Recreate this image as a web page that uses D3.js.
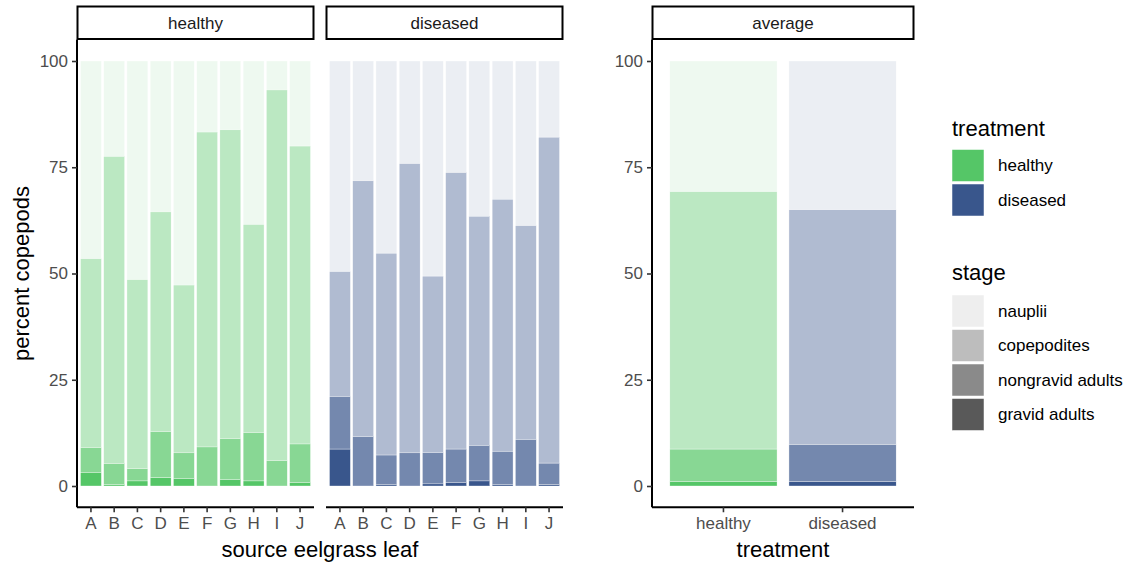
<!DOCTYPE html>
<html>
<head>
<meta charset="utf-8">
<script src="https://cdn.jsdelivr.net/npm/d3@7"></script>
<style>
  html, body { margin: 0; padding: 0; background: #ffffff; }
  svg { display: block; font-family: "Liberation Sans", Arial, sans-serif; }
</style>
</head>
<body>
<svg id="chart" width="1130" height="565"></svg>
<script>
// ---- data: percent of copepods in each life stage ----
const leaves = ["A", "B", "C", "D", "E", "F", "G", "H", "I", "J"];
const treatments = ["healthy", "diseased"];
const stages = ["nauplii", "copepodites", "nongravid adults", "gravid adults"];
const yTicks = [0, 25, 50, 75, 100];

// healthy leaves
const healthyGravid      = [3.1, 0.4, 1.2, 2.0, 1.7, 0.0, 1.5, 1.2, 0.0, 0.9];
const healthyNongravid   = [5.9, 4.9, 2.9, 10.8, 6.1, 9.2, 9.6, 11.4, 6.0, 9.0];
const healthyCopepodites = [44.5, 72.3, 44.5, 51.7, 39.5, 74.1, 72.7, 49.0, 87.2, 70.1];
const healthyNauplii     = [46.5, 22.4, 51.4, 35.5, 52.7, 16.7, 16.2, 38.4, 6.8, 20.0];

// diseased leaves
const diseasedGravid      = [8.7, 0.0, 0.3, 0.0, 0.5, 0.9, 1.2, 0.3, 0.0, 0.4];
const diseasedNongravid   = [12.4, 11.6, 7.0, 7.8, 7.4, 7.8, 8.4, 7.9, 11.0, 5.0];
const diseasedCopepodites = [29.4, 60.2, 47.5, 68.1, 41.5, 65.1, 53.9, 59.3, 50.3, 76.7];
const diseasedNauplii     = [49.5, 28.2, 45.2, 24.1, 50.6, 26.2, 36.5, 32.5, 38.7, 17.9];

// averages per treatment (healthy, diseased)
const avgGravid      = [1.1, 1.1];
const avgNongravid   = [7.6, 8.7];
const avgCopepodites = [60.6, 55.2];
const avgNauplii     = [30.7, 35.0];

// ---- styling ----
const treatmentColor = { healthy: "#55C667", diseased: "#39568C" };
const stageAlpha = { "nauplii": 0.1, "copepodites": 0.4, "nongravid adults": 0.7, "gravid adults": 1.0 };
const smallFont = 17, titleFont = 22;

const svg = d3.select("#chart");

// rows for a panel: one object per category with a value for each stage
function rows(cats, gravid, nongravid, cope, naup, treat) {
  return cats.map((c, i) => ({
    cat: c, treat: treat[i],
    "gravid adults": gravid[i],
    "nongravid adults": nongravid[i],
    "copepodites": cope[i],
    "nauplii": naup[i]
  }));
}

const stackOrder = ["gravid adults", "nongravid adults", "copepodites", "nauplii"];
const stack = d3.stack().keys(stackOrder);

const panelTop = 39.75, panelBottom = 507.25;
const y = d3.scaleLinear().domain([-5, 105]).range([panelBottom, panelTop]);

const panels = [
  { title: "healthy", x0: 77, x1: 314, cats: leaves, yAxis: true,
    data: rows(leaves, healthyGravid, healthyNongravid, healthyCopepodites, healthyNauplii, leaves.map(() => "healthy")) },
  { title: "diseased", x0: 326, x1: 563, cats: leaves, yAxis: false,
    data: rows(leaves, diseasedGravid, diseasedNongravid, diseasedCopepodites, diseasedNauplii, leaves.map(() => "diseased")) },
  { title: "average", x0: 652, x1: 914, cats: treatments, yAxis: true,
    data: rows(treatments, avgGravid, avgNongravid, avgCopepodites, avgNauplii, treatments) }
];

panels.forEach(p => {
  const x = d3.scaleBand().domain(p.cats).range([p.x0, p.x1])
    .paddingInner(0.1).paddingOuter(0.15);
  const g = svg.append("g");

  // stacked bars
  const layers = stack(p.data);
  layers.forEach(layer => {
    g.append("g").selectAll("rect").data(layer).join("rect")
      .attr("x", d => x(d.data.cat))
      .attr("width", x.bandwidth())
      .attr("y", d => y(d[1]))
      .attr("height", d => Math.max(0, y(d[0]) - y(d[1])))
      .attr("fill", d => treatmentColor[d.data.treat])
      .attr("fill-opacity", stageAlpha[layer.key])
      .attr("stroke", "#ffffff")
      .attr("stroke-width", 0.35);
  });

  // x axis
  const xAxis = g.append("g").attr("transform", `translate(0,${panelBottom})`)
    .call(d3.axisBottom(x).tickSizeOuter(0).tickSizeInner(5).tickPadding(5));
  xAxis.select(".domain").attr("stroke", "#000").attr("stroke-width", 2)
    .attr("d", `M${p.x0},0H${p.x1}`);
  xAxis.selectAll(".tick line").attr("stroke", "#333333").attr("stroke-width", 1.6);
  xAxis.selectAll(".tick text").attr("fill", "#4D4D4D")
    .style("font-size", smallFont + "px").style("font-family", "Liberation Sans, Arial, sans-serif");

  // y axis
  if (p.yAxis) {
    const yAxis = g.append("g").attr("transform", `translate(${p.x0},0)`)
      .call(d3.axisLeft(y).tickValues(yTicks).tickSizeOuter(0).tickSizeInner(5).tickPadding(4));
    yAxis.select(".domain").attr("stroke", "#000").attr("stroke-width", 2)
      .attr("d", `M0,${panelTop}V${panelBottom}`);
    yAxis.selectAll(".tick line").attr("stroke", "#333333").attr("stroke-width", 1.6);
    yAxis.selectAll(".tick text").attr("fill", "#4D4D4D")
      .style("font-size", smallFont + "px").style("font-family", "Liberation Sans, Arial, sans-serif");
  }

  // facet strip
  g.append("rect")
    .attr("x", p.x0 + 0.5).attr("y", 6.5)
    .attr("width", p.x1 - p.x0 - 1).attr("height", 32.5)
    .attr("fill", "#ffffff").attr("stroke", "#000").attr("stroke-width", 2);
  g.append("text")
    .attr("x", (p.x0 + p.x1) / 2).attr("y", 29)
    .attr("text-anchor", "middle").attr("fill", "#1A1A1A")
    .style("font-size", smallFont + "px")
    .text(p.title);
});

// axis titles
svg.append("text").attr("x", 320).attr("y", 557).attr("text-anchor", "middle")
  .style("font-size", titleFont + "px").text("source eelgrass leaf");
svg.append("text").attr("x", 783).attr("y", 557).attr("text-anchor", "middle")
  .style("font-size", titleFont + "px").text("treatment");
svg.append("text").attr("transform", `translate(29,${(panelTop + panelBottom) / 2}) rotate(-90)`)
  .attr("text-anchor", "middle")
  .style("font-size", titleFont + "px").text("percent copepods");

// ---- legends ----
const legX = 952, keySize = 32, keyStep = 34.5, labelX = 998;

const legT = svg.append("g");
legT.append("text").attr("x", legX).attr("y", 136)
  .style("font-size", titleFont + "px").text("treatment");
treatments.forEach((t, i) => {
  const ky = 149.5 + i * keyStep;
  legT.append("rect").attr("x", legX).attr("y", ky).attr("width", keySize).attr("height", keySize)
    .attr("fill", treatmentColor[t]).attr("stroke", "#ffffff").attr("stroke-width", 0.5);
  legT.append("text").attr("x", labelX).attr("y", ky + keySize / 2)
    .attr("dominant-baseline", "central")
    .style("font-size", smallFont + "px").text(t);
});

const legS = svg.append("g");
legS.append("text").attr("x", legX).attr("y", 280)
  .style("font-size", titleFont + "px").text("stage");
stages.forEach((s, i) => {
  const ky = 295 + i * keyStep;
  legS.append("rect").attr("x", legX).attr("y", ky).attr("width", keySize).attr("height", keySize)
    .attr("fill", "#595959").attr("fill-opacity", stageAlpha[s])
    .attr("stroke", "#ffffff").attr("stroke-width", 0.5);
  legS.append("text").attr("x", labelX).attr("y", ky + keySize / 2)
    .attr("dominant-baseline", "central")
    .style("font-size", smallFont + "px").text(s);
});
</script>
</body>
</html>
